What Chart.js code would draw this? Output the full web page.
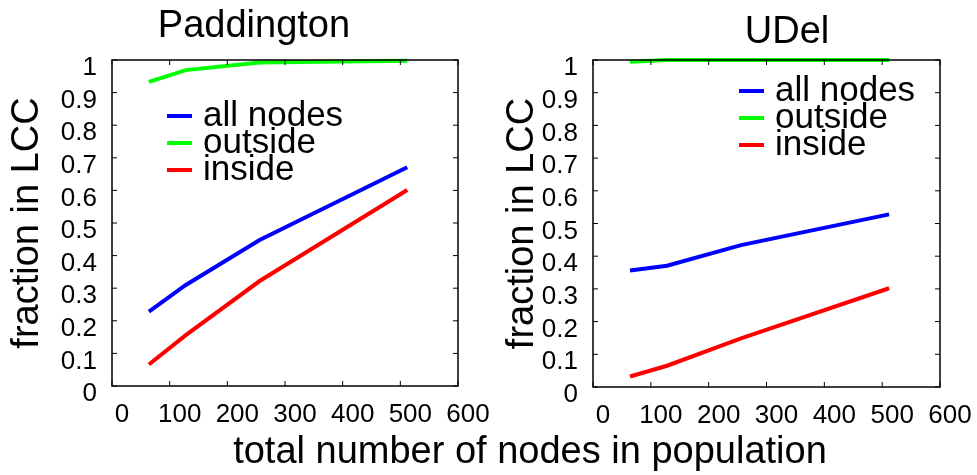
<!DOCTYPE html>
<html>
<head>
<meta charset="utf-8">
<script src="https://cdn.jsdelivr.net/npm/chart.js@4.4.0/dist/chart.umd.min.js"></script>
<style>
    html, body { margin: 0; padding: 0; background: #fff; }
    body { width: 977px; height: 475px; position: relative; overflow: hidden; font-family: "Liberation Sans", Arial, sans-serif; }
    .panel { position: absolute; top: 0; height: 430px; }
    .label { position: absolute; white-space: nowrap; transform: translateX(-50%); color: #000; }
    .title { font-size: 38px; line-height: 38px; }
    #xlabel { left: 530px; top: 431px; font-size: 38px; line-height: 38px; }
</style>
</head>
<body>
<div class="panel" style="left:0;width:490px"><canvas id="paddington"></canvas></div>
<div class="panel" style="left:490px;width:487px"><canvas id="udel"></canvas></div>
<div class="label title" style="left:254px;top:5px">Paddington</div>
<div class="label title" style="left:787px;top:11px">UDel</div>
<div class="label" id="xlabel">total number of nodes in population</div>

<script>
    "use strict";

    // population sizes (x)
    var nodeCounts = [64, 128, 256, 512];
    var seriesNames = ["all nodes", "outside", "inside"];
    var seriesColors = ["#0000ff", "#00ff00", "#ff0000"];

    // Paddington
    var paddAll = [0.228, 0.310, 0.448, 0.671];
    var paddOutside = [0.933, 0.969, 0.992, 0.998];
    var paddInside = [0.066, 0.156, 0.322, 0.601];

    // UDel
    var udelAll = [0.356, 0.371, 0.434, 0.528];
    var udelOutside = [0.995, 1.0, 1.0, 1.0];
    var udelInside = [0.032, 0.065, 0.149, 0.302];

    var xTicks = [0, 100, 200, 300, 400, 500, 600];
    var yTicks = [0, 0.1, 0.2, 0.3, 0.4, 0.5, 0.6, 0.7, 0.8, 0.9, 1];
    var yTickLabels = ["0", "0.1", "0.2", "0.3", "0.4", "0.5", "0.6", "0.7", "0.8", "0.9", "1"];

    var FONT = "'Liberation Sans', Arial, sans-serif";

    // matlab style box with inward ticks + legend inside the axes
    var boxPlugin = {
        id: "boxPlugin",
        afterDatasetsDraw: function (chart, args, opts) {
            var ctx = chart.ctx, a = chart.chartArea;
            var xs = chart.scales.x, ys = chart.scales.y;
            ctx.save();
            ctx.strokeStyle = "#000";
            ctx.lineWidth = 1.5;
            ctx.strokeRect(a.left, a.top, a.right - a.left, a.bottom - a.top);
            ctx.lineWidth = 1;
            ctx.beginPath();
            xTicks.forEach(function (v) {
                var px = xs.getPixelForValue(v);
                ctx.moveTo(px, a.bottom); ctx.lineTo(px, a.bottom - 5);
                ctx.moveTo(px, a.top); ctx.lineTo(px, a.top + 5);
            });
            yTicks.forEach(function (v) {
                var py = ys.getPixelForValue(v);
                ctx.moveTo(a.left, py); ctx.lineTo(a.left + 5, py);
                ctx.moveTo(a.right, py); ctx.lineTo(a.right - 5, py);
            });
            ctx.stroke();

            // legend
            ctx.font = "35px " + FONT;
            ctx.textBaseline = "middle";
            ctx.textAlign = "left";
            chart.data.datasets.forEach(function (ds, i) {
                var y = opts.y + i * 27;
                ctx.strokeStyle = ds.borderColor;
                ctx.lineWidth = 4;
                ctx.beginPath();
                ctx.moveTo(opts.x, y);
                ctx.lineTo(opts.x + 25, y);
                ctx.stroke();
                ctx.fillStyle = "#000";
                ctx.fillText(ds.label, opts.x + 36, y);
            });
            ctx.restore();
        }
    };

    function makeChart(id, all, outside, inside, geom) {
        var values = [all, outside, inside];
        var datasets = values.map(function (vals, i) {
            return {
                label: seriesNames[i],
                data: nodeCounts.map(function (n, j) { return { x: n, y: vals[j] }; }),
                borderColor: seriesColors[i],
                borderWidth: 4,
                pointRadius: 0,
                tension: 0,
                clip: 6
            };
        });

        return new Chart(id, {
            type: "line",
            data: { datasets: datasets },
            plugins: [boxPlugin],
            options: {
                responsive: true,
                maintainAspectRatio: false,
                animation: false,
                layout: { padding: { top: 60, right: geom.padRight, left: 0, bottom: 0 } },
                plugins: {
                    legend: { display: false },
                    tooltip: { enabled: false },
                    boxPlugin: { x: geom.legendX, y: geom.legendY }
                },
                scales: {
                    x: {
                        type: "linear",
                        min: 0,
                        max: 600,
                        afterBuildTicks: function (s) { s.ticks = xTicks.map(function (v) { return { value: v }; }); },
                        ticks: { color: "#000", font: { family: FONT, size: 26 }, padding: 5, labelOffset: 10, maxRotation: 0, autoSkip: false },
                        grid: { display: false },
                        border: { display: false },
                        afterFit: function (s) { s.height = geom.xHeight; }
                    },
                    y: {
                        min: 0,
                        max: 1,
                        afterBuildTicks: function (s) { s.ticks = yTicks.map(function (v) { return { value: v }; }); },
                        ticks: {
                            color: "#000",
                            font: { family: FONT, size: 26 },
                            padding: 7,
                            labelOffset: 8,
                            autoSkip: false,
                            callback: function (v, i) { return yTickLabels[i]; }
                        },
                        grid: { display: false },
                        border: { display: false },
                        title: {
                            display: true,
                            text: "fraction in LCC",
                            color: "#000",
                            font: { family: FONT, size: 38 },
                            padding: { top: geom.titlePad, bottom: 0 }
                        },
                        afterFit: function (s) { s.width = geom.plotLeft; }
                    }
                }
            }
        });
    }

    makeChart("paddington", paddAll, paddOutside, paddInside,
        { plotLeft: 112, padRight: 32, xHeight: 44, legendX: 167, legendY: 116, titlePad: 5 });
    makeChart("udel", udelAll, udelOutside, udelInside,
        { plotLeft: 103, padRight: 37, xHeight: 43, legendX: 249, legendY: 91, titlePad: 10 });
</script>
</body>
</html>
